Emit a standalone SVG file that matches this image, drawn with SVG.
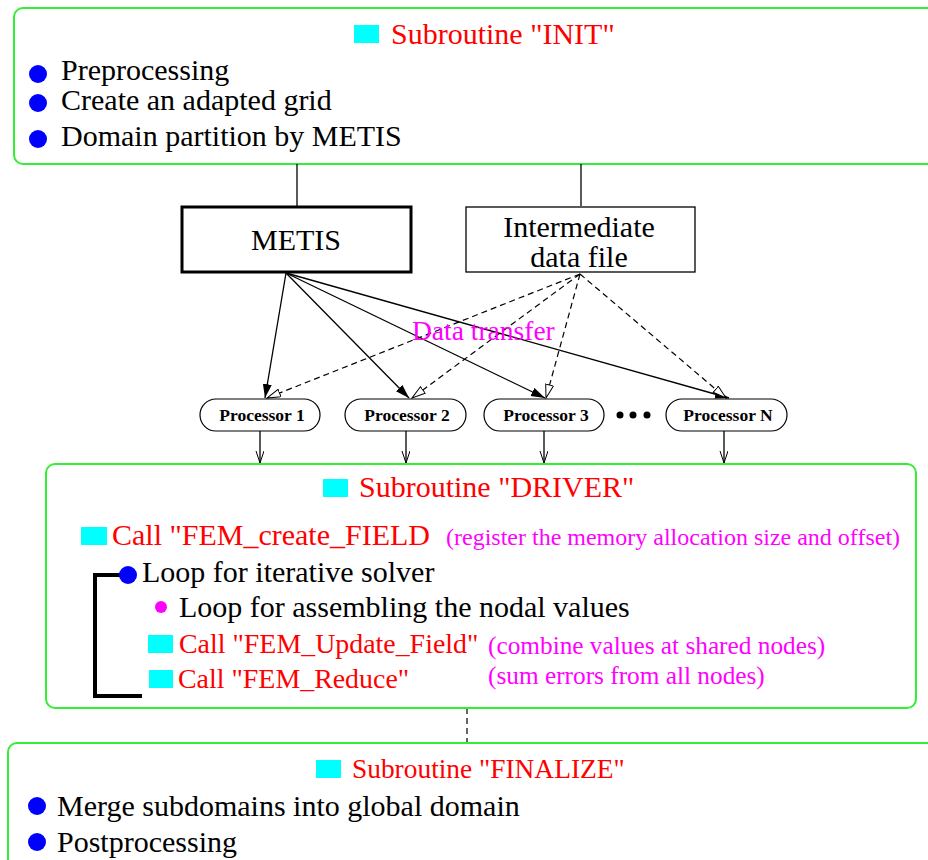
<svg xmlns="http://www.w3.org/2000/svg" width="928" height="860" viewBox="0 0 928 860">
<style>
.box{fill:none;stroke:#33ee33;stroke-width:2}
.t{font-family:"Liberation Serif","Times New Roman",serif;font-size:30px;fill:#000}
.red{fill:#ff0000}
.mag{fill:#ff00ff;font-size:24px}
.sm{font-size:27.9px}
.mag2{fill:#ff00ff;font-size:25.3px}
.sq{fill:#00ffff}
.bul{fill:#0000ff}
.proc{fill:#fff;stroke:#000;stroke-width:1.2}
.pt{font-family:"Liberation Serif","Times New Roman",serif;font-size:17.5px;font-weight:bold;text-anchor:middle}
.ln{stroke:#000;stroke-width:1.3;fill:none}
.dash{stroke:#000;stroke-width:1.2;fill:none;stroke-dasharray:6 4}
</style>
<defs>
<marker id="af" markerUnits="userSpaceOnUse" markerWidth="16" markerHeight="10" refX="14" refY="4.5" orient="auto"><path d="M0,0 L14,4.5 L0,9 z" fill="#000"/></marker>
<marker id="ao" markerUnits="userSpaceOnUse" markerWidth="16" markerHeight="10" refX="14" refY="4.5" orient="auto"><path d="M0.5,0.5 L14,4.5 L0.5,8.5 z" fill="#fff" stroke="#000" stroke-width="1"/></marker>
<marker id="av" markerUnits="userSpaceOnUse" markerWidth="14" markerHeight="10" refX="12" refY="4" orient="auto"><path d="M0,0 L12,4 L0,8" fill="none" stroke="#000" stroke-width="1"/></marker>
</defs>

<g id="init">
<rect class="box" x="14" y="8" width="940" height="156" rx="9"/>
<rect class="sq" x="354" y="25" width="25" height="18"/>
<text class="t red" x="391" y="44">Subroutine "INIT"</text>
<circle class="bul" cx="38" cy="74" r="9"/>
<text class="t" x="61" y="80">Preprocessing</text>
<circle class="bul" cx="38" cy="103" r="9"/>
<text class="t" x="61" y="110">Create an adapted grid</text>
<circle class="bul" cx="38" cy="139" r="9"/>
<text class="t" x="61" y="146">Domain partition by METIS</text>
</g>

<g id="metis">
<rect x="182" y="207" width="229" height="65" fill="#fff" stroke="#000" stroke-width="3"/>
<text class="t" x="296" y="250" text-anchor="middle">METIS</text>
</g>

<g id="datafile">
<rect x="466" y="207" width="229" height="65" fill="#fff" stroke="#000" stroke-width="1.3"/>
<text class="t" x="579" y="237" text-anchor="middle">Intermediate</text>
<text class="t" x="579" y="267" text-anchor="middle">data file</text>
</g>

<g id="connectors">
<line class="ln" x1="297" y1="164" x2="297" y2="206"/>
<line class="ln" x1="581" y1="164" x2="581" y2="206"/>
<line class="ln" x1="286" y1="273" x2="265" y2="398" marker-end="url(#af)"/>
<line class="ln" x1="286" y1="273" x2="409" y2="398" marker-end="url(#af)"/>
<line class="ln" x1="286" y1="273" x2="545" y2="398" marker-end="url(#af)"/>
<line class="ln" x1="286" y1="273" x2="729" y2="398" marker-end="url(#af)"/>
<line class="dash" x1="580" y1="274" x2="267" y2="398" marker-end="url(#ao)"/>
<line class="dash" x1="580" y1="274" x2="412" y2="398" marker-end="url(#ao)"/>
<line class="dash" x1="580" y1="274" x2="546" y2="398" marker-end="url(#ao)"/>
<line class="dash" x1="580" y1="274" x2="726" y2="398" marker-end="url(#ao)"/>
<line class="ln" x1="260" y1="431" x2="260" y2="463" marker-end="url(#av)"/>
<line class="ln" x1="406" y1="431" x2="406" y2="463" marker-end="url(#av)"/>
<line class="ln" x1="544" y1="431" x2="544" y2="463" marker-end="url(#av)"/>
<line class="ln" x1="724" y1="431" x2="724" y2="463" marker-end="url(#av)"/>
<line class="dash" x1="467" y1="708" x2="467" y2="743"/>
<text class="t" x="412" y="340" style="fill:#ff00ff;font-size:27.5px">Data transfer</text>
</g>

<g id="p1">
<rect class="proc" x="200" y="399" width="120" height="32" rx="16"/>
<text class="pt" x="262" y="421">Processor 1</text>
</g>
<g id="p2">
<rect class="proc" x="345" y="399" width="121" height="32" rx="16"/>
<text class="pt" x="407" y="421">Processor 2</text>
</g>
<g id="p3">
<rect class="proc" x="484" y="399" width="120" height="32" rx="16"/>
<text class="pt" x="546" y="421">Processor 3</text>
</g>
<g id="dots">
<circle cx="620" cy="415" r="3.5"/>
<circle cx="633" cy="415" r="3.5"/>
<circle cx="647" cy="415" r="3.5"/>
</g>
<g id="pN">
<rect class="proc" x="666" y="399" width="121" height="32" rx="16"/>
<text class="pt" x="728" y="421">Processor N</text>
</g>

<g id="driver">
<rect class="box" x="46" y="464" width="870" height="244" rx="9"/>
<rect class="sq" x="323" y="479" width="25" height="18"/>
<text class="t red" x="359" y="497">Subroutine "DRIVER"</text>
<rect class="sq" x="81" y="527" width="26" height="18"/>
<text class="t red" x="112" y="545">Call "FEM_create_FIELD</text>
<text class="t mag" x="446" y="545">(register the memory allocation size and offset)</text>
<path d="M120,575 H95 V696 H142" fill="none" stroke="#000" stroke-width="4"/>
<circle class="bul" cx="128" cy="575" r="9"/>
<text class="t" x="142" y="582">Loop for iterative solver</text>
<circle cx="161" cy="607" r="6" fill="#ff00ff"/>
<text class="t" x="179" y="617">Loop for assembling the nodal values</text>
<rect class="sq" x="148" y="635" width="25" height="18"/>
<text class="t red sm" x="179" y="653">Call "FEM_Update_Field"</text>
<text class="t mag2" x="488" y="654">(combine values at shared nodes)</text>
<rect class="sq" x="149" y="670" width="24" height="18"/>
<text class="t red sm" x="178" y="688">Call "FEM_Reduce"</text>
<text class="t mag2" x="488" y="684">(sum errors from all nodes)</text>
</g>

<g id="finalize">
<rect class="box" x="8" y="743" width="950" height="140" rx="9"/>
<rect class="sq" x="316" y="760" width="25" height="18"/>
<text class="t red" x="352" y="778" style="font-size:27.4px">Subroutine "FINALIZE"</text>
<circle class="bul" cx="37" cy="806" r="9"/>
<text class="t" x="57" y="816">Merge subdomains into global domain</text>
<circle class="bul" cx="37" cy="842" r="9"/>
<text class="t" x="57" y="852">Postprocessing</text>
</g>
</svg>
